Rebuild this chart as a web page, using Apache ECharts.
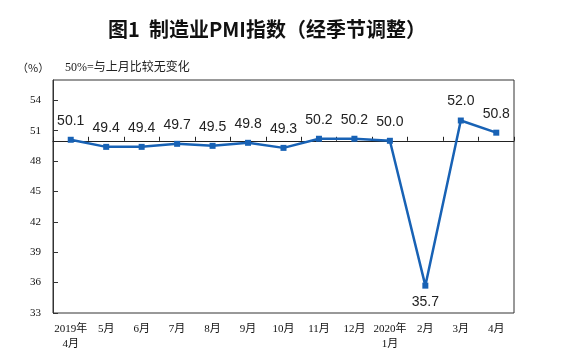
<!DOCTYPE html>
<html><head><meta charset="utf-8">
<script src="https://cdn.jsdelivr.net/npm/echarts@6/dist/echarts.min.js"></script>
<style>html,body{margin:0;padding:0;background:#fff}#c{width:561px;height:363px}</style>
</head><body><div id="c"></div>
<script>
var categories = ['2019年\n4月','5月','6月','7月','8月','9月','10月','11月','12月','2020年\n1月','2月','3月','4月'];
var pmiValues = [50.1, 49.4, 49.4, 49.7, 49.5, 49.8, 49.3, 50.2, 50.2, 50.0, 35.7, 52.0, 50.8];
var yMin = 33, yMax = 56, yInterval = 3;
var refValue = 50;
var belowLabels = [10]; // index of points whose label sits below

var gridTop = 80, gridBottom = 50, chartH = 363;
var plotH = chartH - gridTop - gridBottom;
var refOffset = -(refValue - yMin) / (yMax - yMin) * plotH;

var chart = echarts.init(document.getElementById('c'), null, {renderer:'canvas'});
var lineColor = '#1862b5';
var dataItems = pmiValues.map(function(v, i){
  var it = {value: v};
  if (belowLabels.indexOf(i) >= 0) it.label = {position:'bottom', distance: 6};
  return it;
});
chart.setOption({
  animation:false,
  backgroundColor:'#fff',
  title:[
    {text:'图1  制造业PMI指数（经季节调整）', left:103, top:14,
     textStyle:{fontFamily:'"Noto Sans CJK SC"', fontWeight:'bold', fontSize:20, color:'#111'}},
    {text:'（%）', left:12, top:57, textStyle:{fontFamily:'"Noto Sans CJK SC"', fontWeight:'normal', fontSize:11, color:'#222'}},
    {text:'50%=与上月比较无变化', left:60, top:57, textStyle:{fontFamily:'"Liberation Serif","Noto Sans CJK SC"', fontWeight:'normal', fontSize:12, color:'#222'}}
  ],
  grid:{left:53, right:47, top:gridTop, bottom:gridBottom, show:true, borderColor:'#333', borderWidth:1, backgroundColor:'transparent'},
  xAxis:[
    {type:'category', data:categories, boundaryGap:true,
     axisLine:{show:false}, axisTick:{show:false},
     axisLabel:{interval:0, margin:9, fontFamily:'"Liberation Serif","Noto Sans CJK SC"', fontSize:11, lineHeight:15, color:'#111'}},
    {type:'category', data:categories, boundaryGap:true, position:'bottom', offset:refOffset,
     axisLine:{show:true, lineStyle:{color:'#222', width:1}},
     axisTick:{show:true, inside:true, length:4, interval:0, lineStyle:{color:'#222'}},
     axisLabel:{show:false}}
  ],
  yAxis:{type:'value', min:yMin, max:yMax, interval:yInterval,
    axisLine:{show:true, lineStyle:{color:'#333'}},
    axisTick:{show:true, inside:true, length:5, lineStyle:{color:'#333'}},
    splitLine:{show:false},
    axisLabel:{showMaxLabel:false, margin:12, padding:[5,0,0,0], fontFamily:'"Liberation Serif"', fontSize:11, color:'#111'}},
  series:[{
    type:'line', data:dataItems, xAxisIndex:0,
    symbol:'rect', symbolSize:6,
    lineStyle:{color:lineColor, width:2.5},
    itemStyle:{color:lineColor},
    label:{show:true, position:'top', distance:9, fontFamily:'"Liberation Sans"', fontSize:14, color:'#222',
      formatter:function(p){return p.value.toFixed(1);}}
  }]
});
</script></body></html>
